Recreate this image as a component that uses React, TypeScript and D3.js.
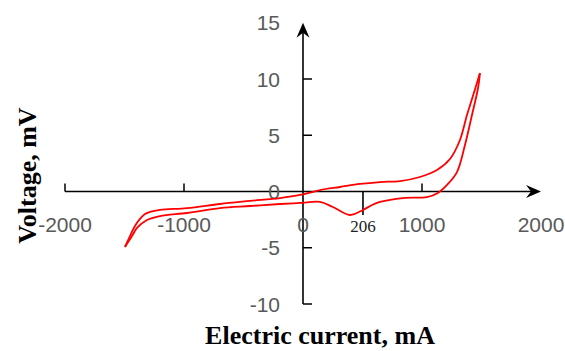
import React from "react";
import * as d3 from "d3";

const upperCurrent = [-1496, -1454, -1412, -1370, -1328, -1286, -1202, -975, -697, -445, -193, -25, 143, 311, 479, 647, 815, 983, 1126, 1235, 1319, 1378, 1420, 1487];
const upperVoltage = [-4.93, -3.96, -3.07, -2.44, -2.0, -1.82, -1.64, -1.47, -1.11, -0.84, -0.58, -0.31, 0.13, 0.4, 0.67, 0.84, 0.93, 1.29, 1.91, 2.89, 4.58, 6.8, 8.22, 10.53];
const lowerCurrent = [-1496, -1437, -1395, -1311, -1202, -975, -697, -445, -193, -25, 143, 252, 395, 504, 580, 647, 840, 1042, 1134, 1210, 1294, 1361, 1420, 1471, 1487];
const lowerVoltage = [-4.93, -3.96, -3.24, -2.53, -2.18, -1.91, -1.47, -1.29, -1.11, -1.02, -0.93, -1.38, -2.09, -1.64, -1.2, -0.93, -0.58, -0.49, -0.13, 0.58, 1.73, 4.13, 6.8, 9.2, 10.53];

const xTicks = [-2000, -1000, 0, 1000, 2000];
const yTicks = [-10, -5, 0, 5, 10, 15];
const markerCurrent = 504;
const markerLabel = "206";
const xTitle = "Electric current, mA";
const yTitle = "Voltage, mV";

const W = 565;
const H = 351;

export default function App() {
  const x = d3.scaleLinear().domain([-2000, 2000]).range([65, 541]);
  const y = d3.scaleLinear().domain([-10, 15]).range([304, 22.75]);
  const line = d3
    .line<[number, number]>()
    .x((d) => x(d[0]))
    .y((d) => y(d[1]))
    .curve(d3.curveCatmullRom.alpha(0.5));
  const upper: [number, number][] = upperCurrent.map((c, i) => [c, upperVoltage[i]]);
  const lower: [number, number][] = lowerCurrent.map((c, i) => [c, lowerVoltage[i]]);
  const x0 = x(0);
  const y0 = y(0);
  const xMax = x(2000);
  const yMax = y(15);
  const labelFont = "'Liberation Sans', Arial, sans-serif";
  const serif = "'Liberation Serif', 'Times New Roman', serif";
  return (
    <svg width={W} height={H} style={{ position: "absolute", left: 0, top: 0 }}>
      <rect width={W} height={H} fill="#fff" />
      {/* axes */}
      <line x1={x(-2000)} x2={xMax - 4} y1={y0} y2={y0} stroke="#000" strokeWidth={1.6} />
      <line x1={x0} x2={x0} y1={y(-10)} y2={yMax + 4} stroke="#000" strokeWidth={1.6} />
      <path d={`M${xMax},${y0} L${xMax - 15},${y0 - 6.5} L${xMax - 10},${y0} L${xMax - 15},${y0 + 6.5} Z`} fill="#000" />
      <path d={`M${x0},${yMax} L${x0 - 6.5},${yMax + 15} L${x0},${yMax + 10} L${x0 + 6.5},${yMax + 15} Z`} fill="#000" />
      {xTicks.filter((t) => t !== 2000 && t !== 0).map((t) => (
        <line key={"xt" + t} x1={x(t)} x2={x(t)} y1={y0} y2={y0 - 8} stroke="#000" strokeWidth={1.5} />
      ))}
      {yTicks.filter((t) => t !== 0 && t !== 15).map((t) => (
        <line key={"yt" + t} x1={x0} x2={x0 + 9} y1={y(t)} y2={y(t)} stroke="#000" strokeWidth={1.5} />
      ))}
      <line x1={x(markerCurrent)} x2={x(markerCurrent)} y1={y0} y2={y0 + 23.5} stroke="#000" strokeWidth={1.6} />
      {/* tick labels */}
      {xTicks.map((t) => (
        <text key={"xl" + t} x={x(t)} y={231.5} textAnchor="middle" fontFamily={labelFont} fontSize={21} fill="#595959">
          {t < 0 ? "-" + Math.abs(t) : String(t)}
        </text>
      ))}
      {yTicks.map((t) => (
        <text key={"yl" + t} x={280} y={y(t) + 7.5} textAnchor="end" fontFamily={labelFont} fontSize={21} fill="#595959">
          {t < 0 ? "-" + Math.abs(t) : String(t)}
        </text>
      ))}
      <text x={x(markerCurrent)} y={232} textAnchor="middle" fontFamily={serif} fontSize={17} fill="#222">
        {markerLabel}
      </text>
      {/* curves */}
      <path d={line(upper) || ""} fill="none" stroke="#ff0000" strokeWidth={1.8} />
      <path d={line(lower) || ""} fill="none" stroke="#ff0000" strokeWidth={1.8} />
      {/* titles */}
      <text x={320} y={344} textAnchor="middle" fontFamily={serif} fontWeight="bold" fontSize={26} fill="#000">
        {xTitle}
      </text>
      <text transform={`translate(36,175.5) rotate(-90)`} textAnchor="middle" fontFamily={serif} fontWeight="bold" fontSize={26} fill="#000">
        {yTitle}
      </text>
    </svg>
  );
}
